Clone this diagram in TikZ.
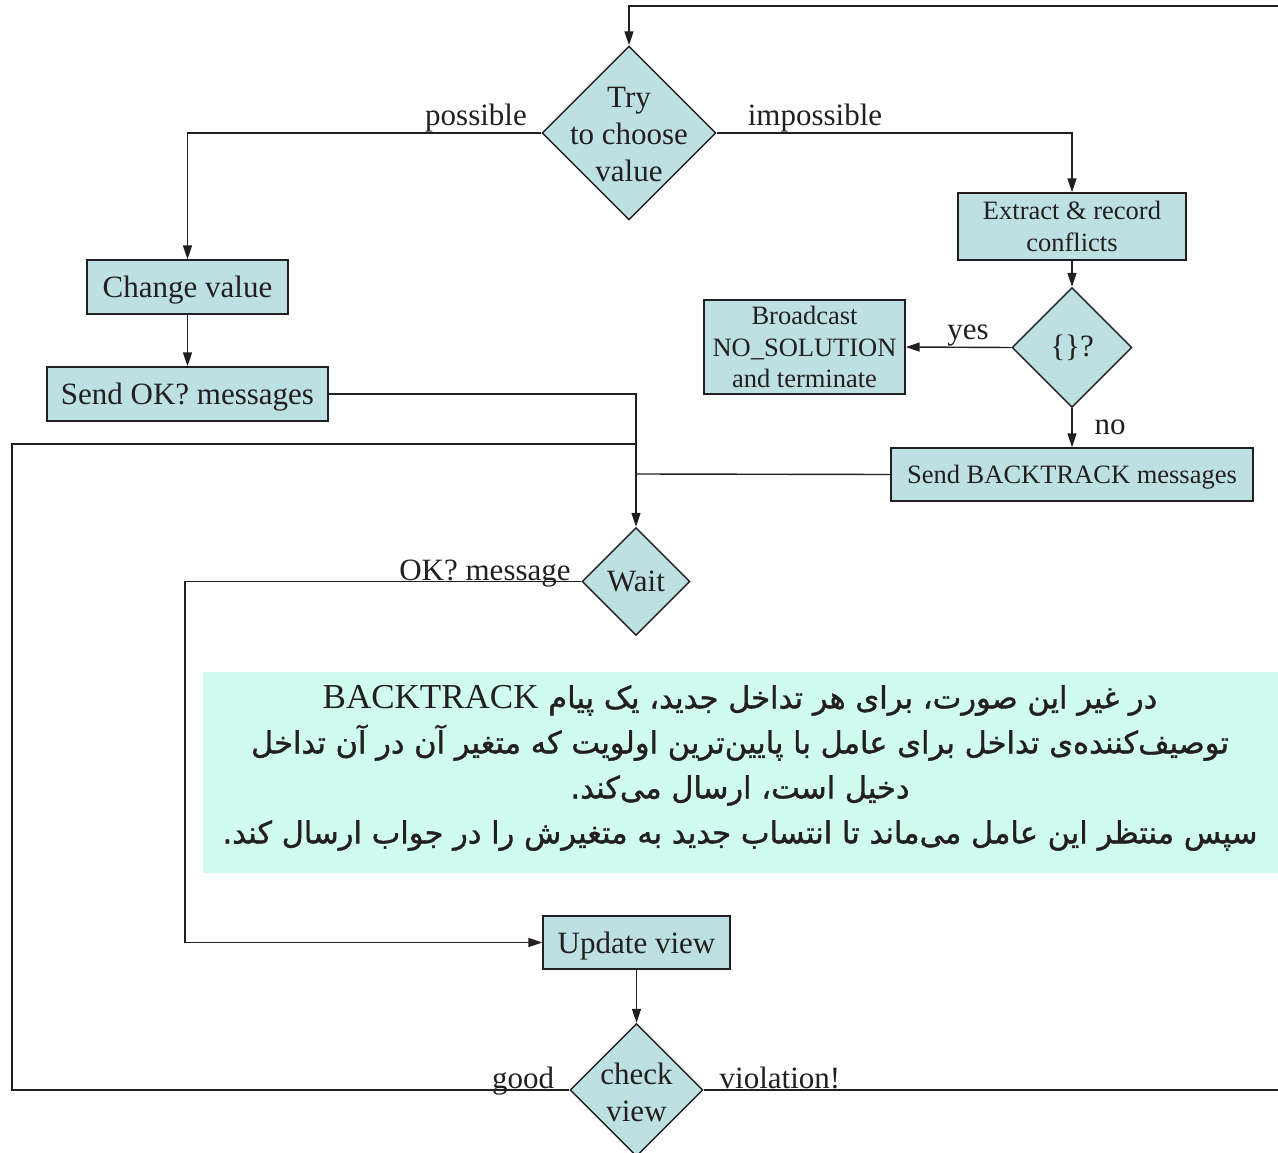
\documentclass[tikz,border=0pt]{standalone}
\usepackage{fontspec}
\setmainfont{Liberation Serif}
\newfontfamily\farsi[Script=Arabic, FakeBold=1.2]{DejaVu Sans}
\TeXXeTstate=1
\usetikzlibrary{shapes.geometric,arrows.meta}

\definecolor{boxfill}{HTML}{BDE0E3}
\definecolor{notefill}{HTML}{CFFCEE}
\definecolor{inkline}{HTML}{231F20}

\begin{document}
\begin{tikzpicture}[x=1pt,y=-1pt,
  every node/.style={font=\fontsize{31}{37}\selectfont, text=inkline},
  small/.style={font=\fontsize{26.5}{31.5}\selectfont},
  procbox/.style 2 args={draw=inkline, fill=boxfill, line width=1.4pt, inner sep=0pt,
    align=center, minimum width=#1pt, minimum height=#2pt, text depth=0pt},
  decision/.style={draw=inkline, fill=boxfill, line width=1.4pt, shape=diamond,
    inner sep=0pt, minimum width=#1pt, minimum height=#1pt},
  flow/.style={draw=inkline, line width=1.4pt},
  arrowflow/.style={flow, -{Triangle[length=14pt,width=9pt]}},
  edgelabel/.style={anchor=base, inner sep=0pt}]

\useasboundingbox (0,0) rectangle (1278,1153);

% note panel
\fill[notefill] (203,672) rectangle (1278,873);
\node[align=center, inner sep=0pt, font=\farsi\fontsize{30.5}{45}\selectfont] (note) at (740,768) {%
\beginR در غیر این صورت، برای هر تداخل جدید، یک پیام \beginL{\rmfamily\fontsize{35}{45}\selectfont BACKTRACK}\endL\endR\\
\beginR توصیف‌کننده‌ی تداخل برای عامل با پایین‌ترین اولویت که متغیر آن در آن تداخل\endR\\
\beginR دخیل است، ارسال می‌کند.\endR\\
\beginR سپس منتظر این عامل می‌ماند تا انتساب جدید به متغیرش را در جواب ارسال کند.\endR};

% decisions
\node[decision=174, label={[align=center, yshift=-2pt]center:Try\\to choose\\value}] (try) at (629,133) {};
\node[decision=120, label={center:\{\}?}] (empty) at (1072,347.5) {};
\node[decision=108, label={center:Wait}] (wait) at (636,581.5) {};
\node[decision=133, label={[align=center, yshift=-2pt]center:check\\view}] (check) at (636.5,1090) {};

% processes
\node[procbox={201}{54}] (change) at (187.5,287) {Change value};
\node[procbox={281}{54}] (sendok) at (187.5,394) {Send OK? messages};
\node[procbox={228}{67}, small] (extract) at (1072,226.5) {Extract \& record\\conflicts};
\node[procbox={201}{94}, small] (broadcast) at (804.5,347) {Broadcast\\NO\_SOLUTION\\and terminate};
\node[procbox={362}{53}, small] (sendbt) at (1072,474.5) {Send BACKTRACK messages};
\node[procbox={187}{53}] (update) at (636.5,942.5) {Update view};

% junction points
\coordinate (leftloop) at (12,444);
\coordinate (btjoin) at (636,474);
\coordinate (rightloop) at (1290,6);

% connectors
\draw[arrowflow] (try.west) -| (change.north);
\draw[arrowflow] (try.east) -| (extract.north);
\draw[arrowflow] (change.south) -- (sendok.north);
\draw[arrowflow] (extract.south) -- (empty.north);
\draw[arrowflow] (empty.west) -- (broadcast.east);
\draw[arrowflow] (empty.south) -- (sendbt.north);
\draw[arrowflow] (sendok.east) -| (wait.north);
\draw[flow] (sendbt.west) -- (btjoin);
\draw[flow] (check.west) -| (leftloop) -- (636,444);
\draw[arrowflow] (wait.west) -| (185,942.5) -- (update.west);
\draw[arrowflow] (update.south) -- (check.north);
\draw[arrowflow] (check.east) -- (1290,1090) -- (rightloop) -| (try.north);

% edge labels
\node[edgelabel] (lpossible) at (476,126) {possible};
\node[edgelabel] (limpossible) at (815,126) {impossible};
\node[edgelabel] (lyes) at (968,339) {yes};
\node[edgelabel] (lno) at (1110,434) {no};
\node[edgelabel] (lokmsg) at (485,580) {OK? message};
\node[edgelabel] (lgood) at (523,1088) {good};
\node[edgelabel] (lviolation) at (780,1088) {violation!};
\end{tikzpicture}
\end{document}
